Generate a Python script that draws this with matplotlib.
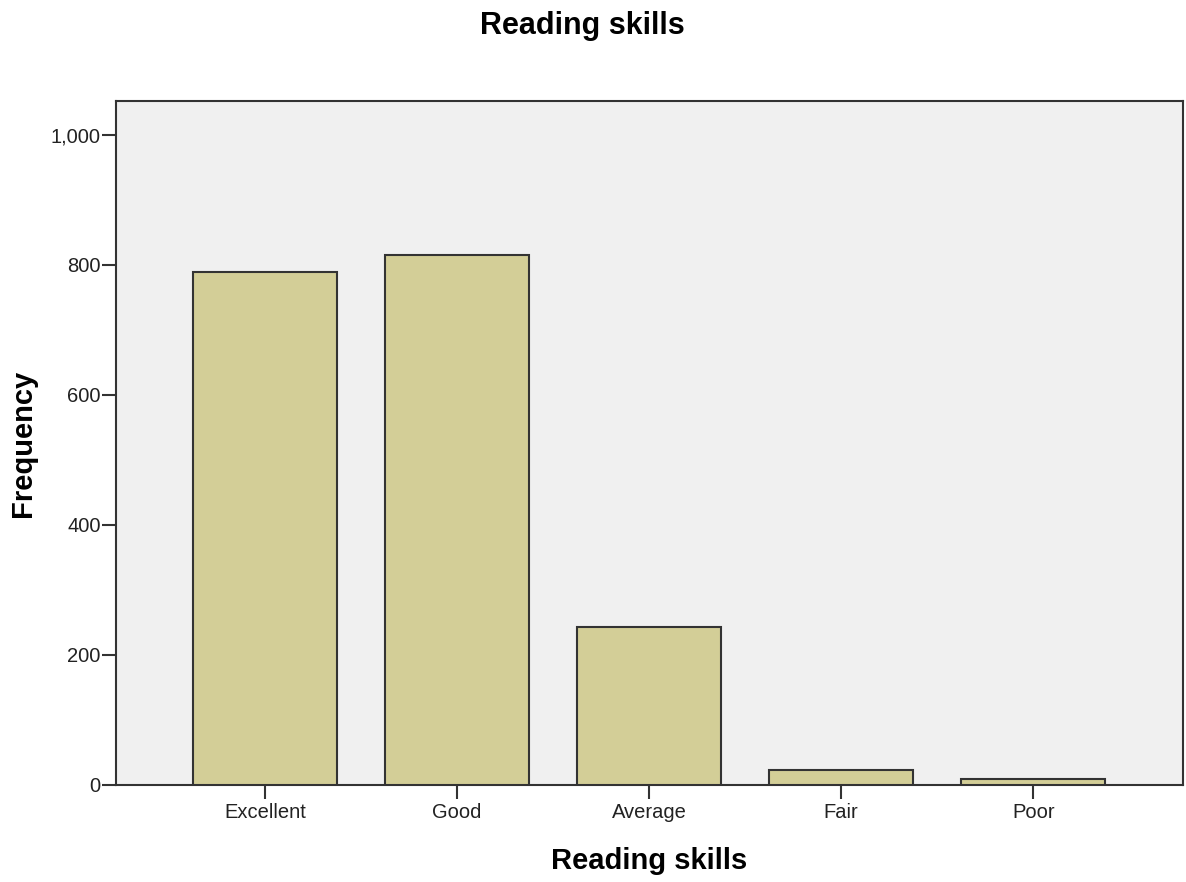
import matplotlib
matplotlib.use("Agg")
import matplotlib.pyplot as plt
from matplotlib.ticker import FuncFormatter

categories = ["Excellent", "Good", "Average", "Fair", "Poor"]
frequency = [789, 815, 243, 23, 9]
yticks = [0, 200, 400, 600, 800, 1000]

plt.rcParams['font.family'] = ['Liberation Sans', 'DejaVu Sans']

fig = plt.figure(figsize=(11.86, 8.82), dpi=100)
ax = fig.add_axes([116/1186, 1 - 785/882, (1183-116)/1186, (785-101)/882])
ax.set_facecolor("#F0F0F0")

x = list(range(len(categories)))
ax.bar(x, frequency, width=0.75, color="#D3CE97", edgecolor="#333333", linewidth=1.5, zorder=3)

ax.set_xlim(-0.776, 4.78)
ax.set_ylim(0, 1052)
ax.set_xticks(x)
ax.set_xticklabels(categories)
ax.set_yticks(yticks)
ax.yaxis.set_major_formatter(FuncFormatter(lambda v, p: f"{int(v):,}"))
ax.tick_params(axis="both", direction="out", length=10, width=1.5, color="#333333",
               labelsize=14.5, labelcolor="#222222")
ax.tick_params(axis="x", pad=3)
ax.tick_params(axis="y", pad=1)
for s in ax.spines.values():
    s.set_linewidth(1.5)
    s.set_color("#333333")

ax.set_xlabel("Reading skills", fontsize=21, fontweight="bold", labelpad=18)
ax.set_ylabel("Frequency", fontsize=21, fontweight="bold", labelpad=10)
fig.text(582/1186, 1 - 26/882, "Reading skills", ha="center", va="center",
         fontsize=22, fontweight="bold")

fig.savefig("out.png", dpi=100)
